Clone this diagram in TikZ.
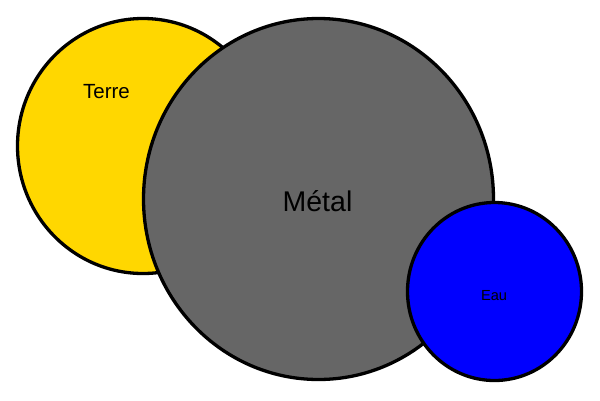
\documentclass[tikz,border=0pt]{standalone}
\usepackage{fontspec}
\setmainfont{Liberation Sans}
\definecolor{terrecol}{HTML}{FFD700}
\definecolor{metalcol}{HTML}{666666}
\definecolor{eaucol}{HTML}{0000FF}
\begin{document}
\begin{tikzpicture}[x=1pt,y=-1pt,
  blob/.style={draw=black,line width=3.3pt},
  lbl/.style={anchor=base,inner sep=0pt,text=black}]
\useasboundingbox (0,0) rectangle (600,400);
\fill[white] (0,0) rectangle (600,400);
\draw[blob,fill=terrecol] (143,146) ellipse [x radius=125.5, y radius=127.5];
\node[lbl,font=\fontsize{20.5}{24}\selectfont] (terre) at (106.5,98) {Terre};
\draw[blob,fill=metalcol] (318.5,199) ellipse [x radius=175, y radius=180.5];
\node[lbl,font=\fontsize{28.5}{34}\selectfont] (metal) at (317.5,211.5) {Métal};
\draw[blob,fill=eaucol] (494.5,291.5) ellipse [x radius=87, y radius=89];
\node[lbl,font=\fontsize{14.6}{17}\selectfont] (eau) at (494,300.5) {Eau};
\end{tikzpicture}
\end{document}
